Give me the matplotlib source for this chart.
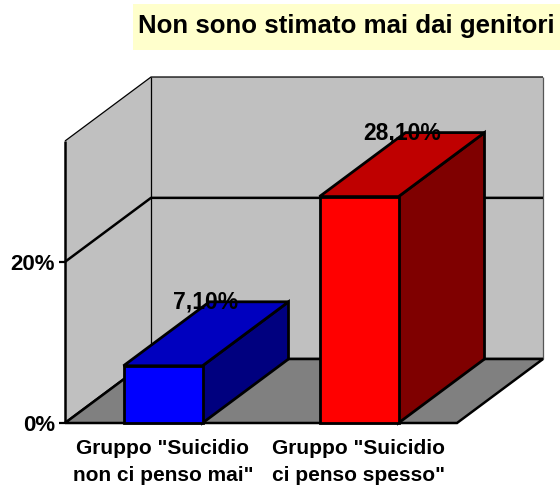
import matplotlib
matplotlib.use('Agg')
import matplotlib.pyplot as plt
from matplotlib.patches import Polygon, Rectangle

plt.rcParams['font.family'] = ['Liberation Sans', 'DejaVu Sans']

title = 'Non sono stimato mai dai genitori'
categories = ['Gruppo "Suicidio\nnon ci penso mai"', 'Gruppo "Suicidio\nci penso spesso"']
values = [7.1, 28.1]
value_labels = ['7,10%', '28,10%']
front_colors = ['#0000ff', '#ff0000']
top_colors = ['#0000bf', '#bf0000']
side_colors = ['#00007f', '#7f0000']
y_ticks = [0, 20]
y_tick_labels = ['0%', '20%']
y_max = 35

# oblique depth of the fake 3d box, in data units
DX = 86 / 196
DY = 64 / (282 / y_max)
BAR_W = 79 / 196

W, H = 560, 486
fig = plt.figure(figsize=(W / 100, H / 100), dpi=100, facecolor='white')
ax = fig.add_axes([65 / W, 1 - 423 / H, 392 / W, 282 / H])
ax.set_xlim(0, len(categories))
ax.set_ylim(0, y_max)
ax.patch.set_visible(False)
for spine in ax.spines.values():
    spine.set_visible(False)


def poly(pts, fc, lw=0.0, ec='black', z=1):
    p = Polygon(pts, closed=True, facecolor=fc, edgecolor=ec, linewidth=lw,
                zorder=z, clip_on=False, joinstyle='miter')
    ax.add_patch(p)


def line(xs, ys, lw=1.0, c='black', z=2):
    ax.plot(xs, ys, color=c, lw=lw, zorder=z, clip_on=False, solid_capstyle='butt')


x_end = len(categories)

# walls
poly([(0, 0), (DX, DY), (DX, y_max + DY), (0, y_max)], '#c0c0c0')
poly([(DX, DY), (x_end + DX, DY), (x_end + DX, y_max + DY), (DX, y_max + DY)], '#c0c0c0')
line([0, DX, x_end + DX], [y_max, y_max + DY, y_max + DY], lw=0.9)
line([DX, DX], [DY, y_max + DY], lw=0.9)
line([x_end + DX, x_end + DX], [DY, y_max + DY], lw=0.9, c='#555555')
line([0, 0], [0, y_max], lw=1.8)

# gridlines
for t in y_ticks:
    line([0, DX, x_end + DX], [t, t + DY, t + DY], lw=1.8)

# floor
poly([(0, 0), (x_end, 0), (x_end + DX, DY), (DX, DY)], '#808080', lw=1.8, z=3)

# axis ticks and labels
ax.set_yticks(y_ticks, y_tick_labels, fontsize=16, fontweight='bold')
ax.tick_params(axis='y', length=4.3, width=1.6, pad=2.9)
ax.set_xticks([i + 0.5 for i in range(len(categories))], categories,
              fontsize=15, fontweight='bold', linespacing=1.55)
ax.tick_params(axis='x', length=0, pad=11.5)

# bars
for i, v in enumerate(values):
    x0 = i + 0.5 - BAR_W / 2
    x1 = i + 0.5 + BAR_W / 2
    z = 4 + i
    poly([(x1, 0), (x1 + DX, DY), (x1 + DX, v + DY), (x1, v)], side_colors[i], lw=2.0, z=z)
    poly([(x0, v), (x1, v), (x1 + DX, v + DY), (x0 + DX, v + DY)], top_colors[i], lw=2.0, z=z)
    ax.bar(i + 0.5, v, width=BAR_W, color=front_colors[i], edgecolor='black', linewidth=2.0,
           zorder=z, clip_on=False)
    ax.text(i + 0.5 + DX / 2, v + DY, value_labels[i], ha='center', va='center',
            fontsize=16.5, fontweight='bold', zorder=10)

# title box
fig.add_artist(Rectangle((133 / W, 1 - 50 / H), (W - 133) / W, 46 / H, transform=fig.transFigure,
                         facecolor='#ffffcc', edgecolor='none'))
fig.text(138 / W, 1 - 26 / H, title, ha='left', va='center', fontsize=18.65, fontweight='bold')

fig.savefig('out.png', dpi=100)
